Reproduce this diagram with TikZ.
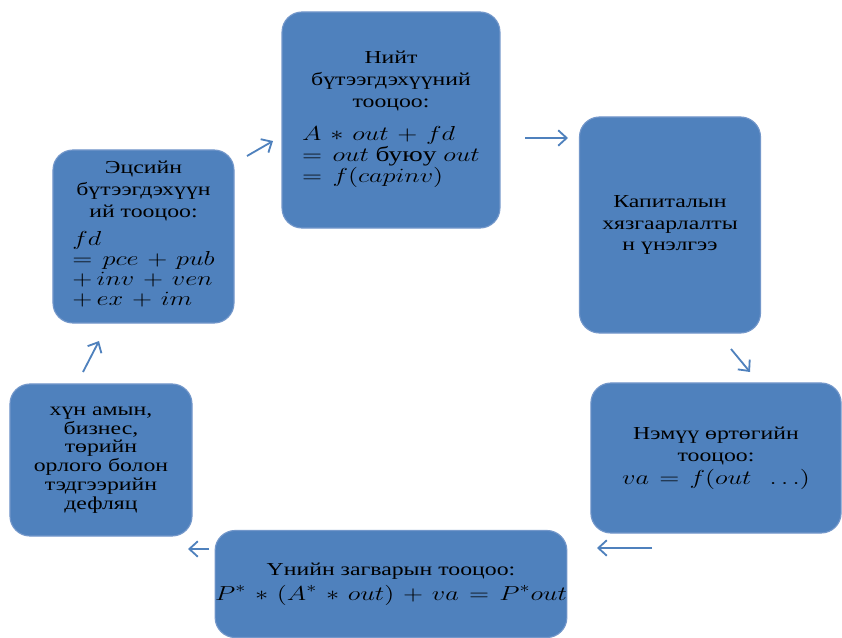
\documentclass[tikz,border=0pt]{standalone}
\usepackage{fontspec}
\setmainfont{Liberation Serif}
\usetikzlibrary{arrows.meta}
\definecolor{boxblue}{HTML}{4F81BD}
\definecolor{boxedge}{HTML}{7397CA}
\renewcommand{\arraystretch}{1.05}
\newcommand{\eqsize}{\fontsize{15}{13.6}\selectfont
  \medmuskip=6mu plus 2mu minus 3mu \thickmuskip=7mu plus 3mu}

\begin{document}
\begin{tikzpicture}[x=0.025cm, y=-0.025cm,
  stage/.style={shape=rectangle, rounded corners=0.5cm, draw=boxedge,
    line width=0.8pt, fill=boxblue, xscale=1.3, inner sep=0pt,
    align=center, font=\fontsize{13}{15.6}\selectfont},
  flow/.style={-{Straight Barb[length=6pt, width=11pt]}, color=boxblue,
    line width=1.3pt}]
\useasboundingbox (0,0) rectangle (842,638);

% the six steps, clockwise from the top
\node[stage, minimum width=4.19cm, minimum height=5.4cm] at (391, 120)
(total) {Нийт\\ бүтээгдэхүүний\\ тооцоо:\\[8pt]
  \eqsize\begin{tabular}[t]{@{}l@{}}$A*out+fd$\\ $=out$ буюу $out$\\ $=f(capinv)$\end{tabular}};

\node[stage, minimum width=3.48cm, minimum height=5.4cm] at (670, 225)
(capital) {Капиталын\\ хязгаарлалты\\ н үнэлгээ};

\node[stage, minimum width=4.81cm, minimum height=3.75cm] at (716, 458)
(value) {Нэмүү өртөгийн\\ тооцоо:\\[1pt] {\eqsize $va=f(out\ \ \ldots)$}};

\node[stage, minimum width=6.75cm, minimum height=2.675cm] at (391, 584)
(price) {Үнийн загварын тооцоо:\\[2pt] {\eqsize $P^{*}*(A^{*}*out)+va=P^{*}out$}};

\node[stage, minimum width=3.5cm, minimum height=3.8cm,
  font=\fontsize{13}{13.4}\selectfont] at (101, 460)
(deflator) {хүн амын,\\ бизнес,\\ төрийн\\ орлого болон\\ тэдгээрийн\\ дефляц};

\node[stage, minimum width=3.48cm, minimum height=4.325cm] at (143.5, 236.5)
(final) {Эцсийн\\ бүтээгдэхүүн\\ ий тооцоо:\\[4pt]
  \eqsize\begin{tabular}[t]{@{}l@{}}$fd$\\ $=pce+pub$\\ $+\,inv+ven$\\ $+\,ex+im$\end{tabular}};

% free ends of the arrows
\coordinate (final-out) at (247, 156);
\coordinate (total-in) at (273, 141);
\coordinate (total-out) at (525, 138);
\coordinate (capital-in) at (568, 138);
\coordinate (capital-out) at (731, 349);
\coordinate (value-in) at (750, 372);
\coordinate (value-out) at (652, 548);
\coordinate (price-in) at (597, 548);
\coordinate (price-out) at (209, 549);
\coordinate (deflator-in) at (188, 549);
\coordinate (deflator-out) at (83, 372);
\coordinate (final-in) at (99, 341);

\path[flow]
  (final-out)    edge (total-in)
  (total-out)    edge (capital-in)
  (capital-out)  edge (value-in)
  (value-out)    edge (price-in)
  (price-out)    edge (deflator-in)
  (deflator-out) edge (final-in)
;
\end{tikzpicture}
\end{document}
